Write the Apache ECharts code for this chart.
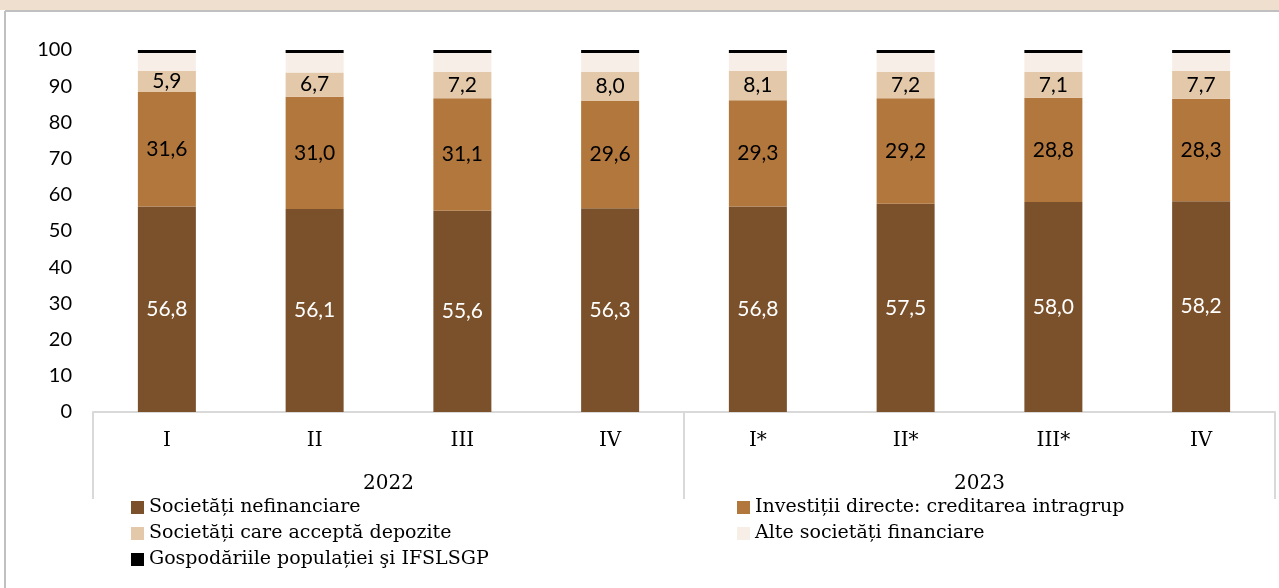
<!DOCTYPE html>
<html>
<head>
<meta charset="utf-8">
<script src="https://cdn.jsdelivr.net/npm/echarts@6/dist/echarts.min.js"></script>
<style>
html,body{margin:0;padding:0;background:#fff;}
#c{width:1279px;height:588px;}
</style>
</head>
<body>
<div id="c"></div>
<script>
const quarters = ['I','II','III','IV','I*','II*','III*','IV'];
const years = ['2022','2023'];
const seriesNames = ['Societăți nefinanciare','Investiții directe: creditarea intragrup','Societăți care acceptă depozite','Alte societăți financiare','Gospodăriile populației şi IFSLSGP'];
const nefinanciare = [56.8,56.1,55.6,56.3,56.8,57.5,58.0,58.2];
const intragrup = [31.6,31.0,31.1,29.6,29.3,29.2,28.8,28.3];
const depozite = [5.9,6.7,7.2,8.0,8.1,7.2,7.1,7.7];
const alte = [4.9,5.4,5.3,5.3,5.0,5.3,5.3,5.0];
const gospodarii = [0.8,0.8,0.8,0.8,0.8,0.8,0.8,0.8];
const yTicks = [0,10,20,30,40,50,60,70,80,90,100];

const colors = ['#7B512C','#B2773C','#E4C8AA','#F7EEE8','#000000'];
const sans = 'Lato';
const serif = 'DejaVu Serif';
const fmt = p => p.value.toFixed(1).replace('.', ',');
function mk(i, data, labelColor){
  return {
    name: seriesNames[i], type:'bar', stack:'t', data:data, barWidth:58,
    xAxisIndex:0, yAxisIndex:0,
    itemStyle:{color:colors[i]},
    label: labelColor ? {show:true, position:'inside', color:labelColor, fontFamily:sans, fontSize:21, formatter:fmt} : {show:false},
    emphasis:{disabled:true}
  };
}
const chart = echarts.init(document.getElementById('c'), null, {renderer:'canvas'});
chart.setOption({
  animation:false,
  grid:{left:93, right:4, top:50, bottom:176},
  legend:[
    {data:[seriesNames[0],seriesNames[2],seriesNames[4]], orient:'vertical', left:126, top:493, itemWidth:13, itemHeight:13, itemGap:7, icon:'rect',
     textStyle:{fontFamily:serif, fontSize:19, color:'#000'}, selectedMode:false},
    {data:[seriesNames[1],seriesNames[3]], orient:'vertical', left:732, top:493, itemWidth:13, itemHeight:13, itemGap:7, icon:'rect',
     textStyle:{fontFamily:serif, fontSize:19, color:'#000'}, selectedMode:false}
  ],
  xAxis:[
    {type:'category', data:quarters, position:'bottom',
     axisLine:{lineStyle:{color:'#D9D9D9', width:2}}, axisTick:{show:false},
     axisLabel:{fontFamily:serif, fontSize:20, color:'#000', margin:19}},
    {type:'category', data:years, position:'bottom', offset:0,
     axisLine:{show:false},
     axisTick:{show:true, length:87, lineStyle:{color:'#D9D9D9', width:2}},
     axisLabel:{fontFamily:serif, fontSize:20, color:'#000', margin:62}}
  ],
  yAxis:{type:'value', min:0, max:100, interval:10,
    axisLine:{show:false}, axisTick:{show:false}, splitLine:{show:false},
    axisLabel:{fontFamily:sans, fontSize:20, color:'#000', margin:21}},
  graphic:[
    {type:'rect', shape:{x:0,y:0,width:1279,height:10}, style:{fill:'#EFDFCF'}, z:-1},
    {type:'line', shape:{x1:5,y1:11,x2:1279,y2:11}, style:{stroke:'#C0C0C0', lineWidth:2}},
    {type:'line', shape:{x1:5,y1:11,x2:5,y2:588}, style:{stroke:'#C0C0C0', lineWidth:2}}
  ],
  series:[
    mk(0, nefinanciare, '#fff'),
    mk(1, intragrup, '#000'),
    mk(2, depozite, '#000'),
    mk(3, alte, null),
    mk(4, gospodarii, null)
  ]
});
</script>
</body>
</html>
